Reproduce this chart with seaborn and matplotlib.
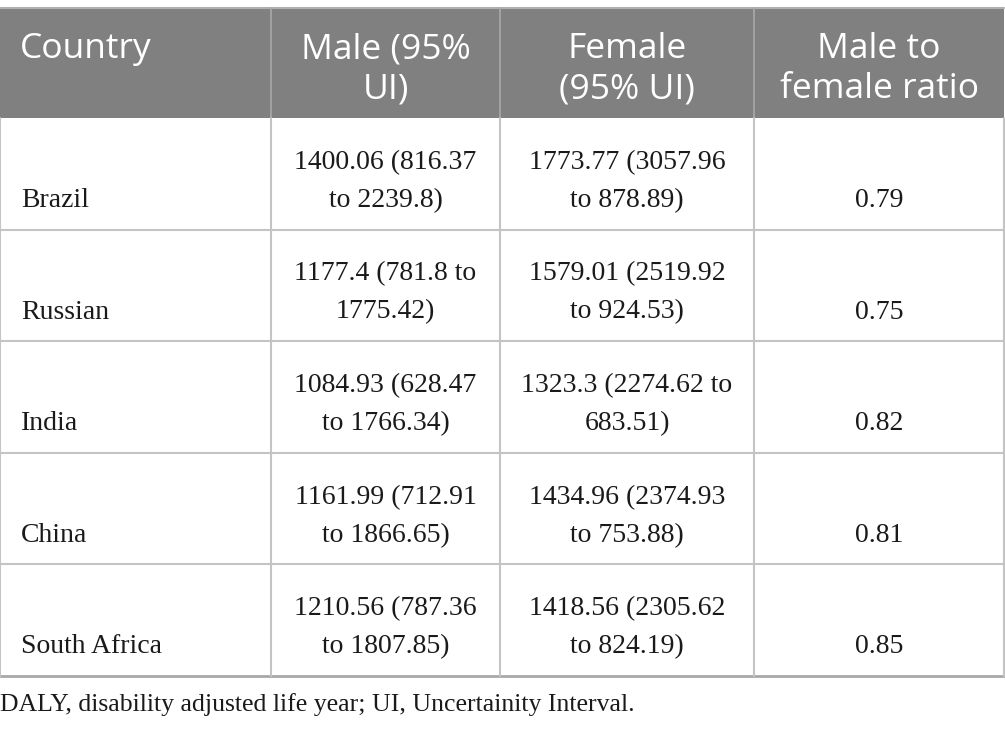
import matplotlib
matplotlib.use("Agg")
import matplotlib.pyplot as plt
import seaborn as sns

# table content
headers = ["Country", "Male (95%\nUI)", "Female\n(95% UI)", "Male to\nfemale ratio"]
countries = ["Brazil", "Russian", "India", "China", "South Africa"]
male = ["1400.06 (816.37\nto 2239.8)", "1177.4 (781.8 to\n1775.42)",
        "1084.93 (628.47\nto 1766.34)", "1161.99 (712.91\nto 1866.65)",
        "1210.56 (787.36\nto 1807.85)"]
female = ["1773.77 (3057.96\nto 878.89)", "1579.01 (2519.92\nto 924.53)",
          "1323.3 (2274.62 to\n683.51)", "1434.96 (2374.93\nto 753.88)",
          "1418.56 (2305.62\nto 824.19)"]
ratio = ["0.79", "0.75", "0.82", "0.81", "0.85"]
footnote = "DALY, disability adjusted life year; UI, Uncertainity Interval."

sns.set_theme(style="white")
plt.rcParams['font.family'] = ['Liberation Serif', 'DejaVu Serif']

W, H = 1005, 732
fig = plt.figure(figsize=(W / 100, H / 100), dpi=100)
ax = fig.add_axes([0, 0, 1, 1])
ax.set_xlim(0, W)
ax.set_ylim(H, 0)
ax.axis("off")

col_edges = [0, 271, 500, 754, 1004]
head_top, head_bot = 8, 118
row_h = 111.6
n = len(countries)
row_edges = [head_bot + i * row_h for i in range(n + 1)]

head_bg = "#808080"
grid = "#c4c4c4"


def put_lines(x, baselines, txt, ha, **kw):
    for yb, line in zip(baselines, txt.split("\n")):
        ax.text(x, yb, line, ha=ha, va="baseline", **kw)


# header
ax.fill_between([col_edges[0], col_edges[-1]], head_top, head_bot, color=head_bg, lw=0)
ax.plot([col_edges[0], col_edges[-1]], [head_top, head_top], color="#b0b0b0", lw=1.5)
for x in col_edges[1:-1]:
    ax.plot([x, x], [head_top, head_bot], color="#a8a8a8", lw=1.2)

hfont = dict(family="Open Sans", fontsize=25.5, color="white")
put_lines(20, [58], headers[0], "left", **hfont)
for j in range(1, 4):
    cx = (col_edges[j] + col_edges[j + 1]) / 2
    put_lines(cx, [58, 98], headers[j], "center", **hfont)

# body grid
for y in row_edges[1:-1]:
    ax.plot([col_edges[0], col_edges[-1]], [y, y], color=grid, lw=1.5)
ax.plot([col_edges[0], col_edges[-1]], [row_edges[-1]] * 2, color="#a8a8a8", lw=2)
for x in col_edges:
    ax.plot([x, x], [head_bot, row_edges[-1]], color=grid, lw=1.5)

bfont = dict(fontsize=20, color="#1a1a1a")
for i in range(n):
    top = row_edges[i]
    b1, b2 = top + 51, top + 89
    put_lines(21, [b2], countries[i], "left", **bfont)
    put_lines((col_edges[1] + col_edges[2]) / 2, [b1, b2], male[i], "center", **bfont)
    put_lines((col_edges[2] + col_edges[3]) / 2, [b1, b2], female[i], "center", **bfont)
    put_lines((col_edges[3] + col_edges[4]) / 2, [b2], ratio[i], "center", **bfont)

ax.text(0, 711, footnote, ha="left", va="baseline", fontsize=18.5, color="#1a1a1a")

fig.savefig("out.png", dpi=100)
